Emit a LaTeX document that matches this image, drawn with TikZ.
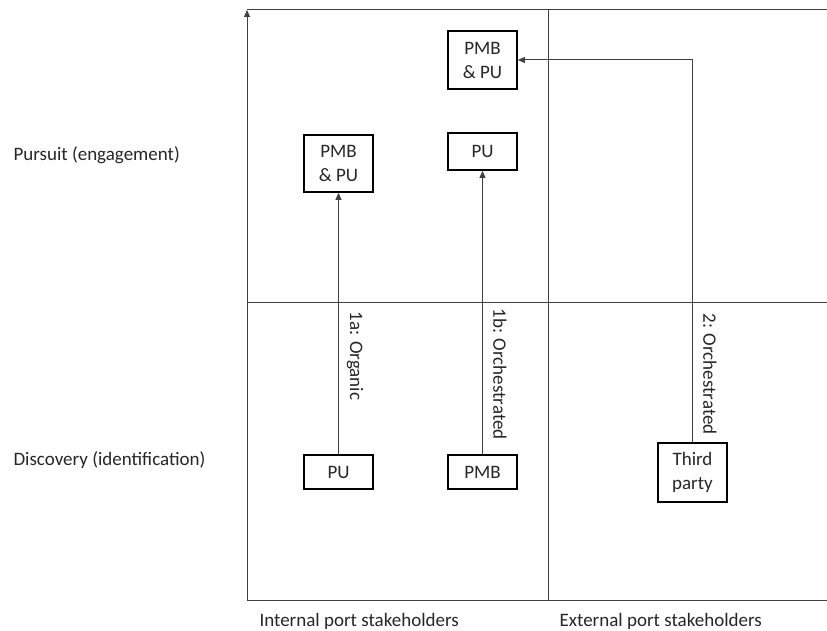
\documentclass[tikz,border=0pt]{standalone}
\usepackage{fontspec}
\setmainfont{Carlito}
\usetikzlibrary{arrows.meta}
\begin{document}
\begin{tikzpicture}[x=1pt,y=-1pt,
  every node/.style={font=\fontsize{19}{24}\selectfont, text=black!85},
  gridline/.style={draw=black!75, line width=1pt},
  box/.style={draw=black, line width=1.8pt, align=center, minimum width=69pt, inner sep=0pt},
  conn/.style={draw=black!75, line width=1pt, -{Triangle[length=7pt,width=6pt]}},
  plain/.style={draw=black!75, line width=1pt},
  lab/.style={rotate=-90, anchor=center}]
\useasboundingbox (0,0) rectangle (827,631);
% axes and grid
\coordinate (o) at (247,600);
\coordinate (ytop) at (247,10);
\coordinate (tr) at (827,10);
\coordinate (br) at (827,600);
\coordinate (vt) at (548,10);
\coordinate (vb) at (548,600);
\coordinate (hl) at (247,302);
\coordinate (hr) at (827,302);
\draw[gridline] (o) -- (br);
\draw[gridline] (ytop) -- (tr);
\draw[gridline] (vt) -- (vb);
\draw[gridline] (hl) -- (hr);
\draw[conn] (o) -- (ytop);
% axis labels
\node (pursuit) [anchor=west] at (10,155) {Pursuit (engagement)};
\node (discovery) [anchor=west] at (10,460) {Discovery (identification)};
\node (internal) [anchor=west] at (256,621) {Internal port stakeholders};
\node (external) [anchor=west] at (556,621) {External port stakeholders};
% boxes
\node (pmbpuT) [box, minimum height=58pt] at (482.5,60) {PMB\\\& PU};
\node (pmbpuL) [box, minimum height=57pt] at (338.5,163.5) {PMB\\\& PU};
\node (puR) [box, minimum height=37pt] at (482.5,151.5) {PU};
\node (puB) [box, minimum height=34pt] at (338.5,472) {PU};
\node (pmbB) [box, minimum height=34pt] at (482.5,472) {PMB};
\node (third) [box, minimum height=59pt] at (692.5,472.5) {Third\\party};
% connectors
\draw[conn] (puB.north) -- (pmbpuL.south);
\draw[conn] (pmbB.north) -- (puR.south);
\coordinate (corner) at (third.north |- pmbpuT.east);
\draw[conn] (third.north) -- (corner) -- (pmbpuT.east);
% labels
\node (la) [lab] at (355,356) {1a: Organic};
\node (lb) [lab] at (500,374) {1b: Orchestrated};
\node (lc) [lab] at (710,374) {2: Orchestrated};
\end{tikzpicture}
\end{document}
